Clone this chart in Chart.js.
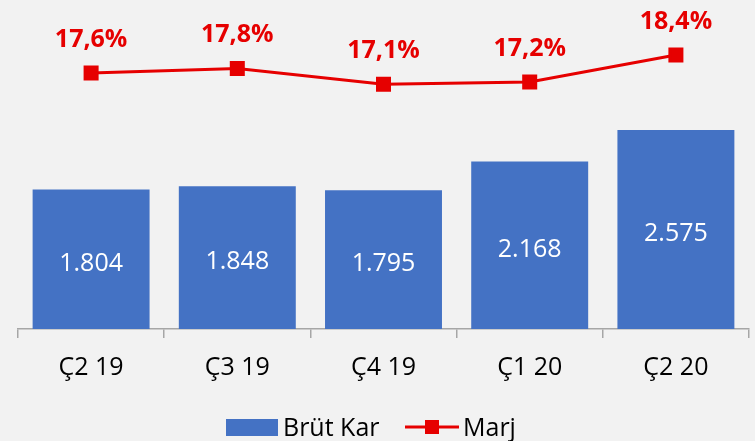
<!DOCTYPE html>
<html>
<head>
<meta charset="utf-8">
<script src="https://cdn.jsdelivr.net/npm/chart.js@4/dist/chart.umd.min.js"></script>
<style>
  html, body { margin: 0; padding: 0; background: #F2F2F2; overflow: hidden; }
  #chart { display: block; }
</style>
</head>
<body>
<canvas id="chart" width="755" height="441"></canvas>
<script>
const categories = ['Ç2 19', 'Ç3 19', 'Ç4 19', 'Ç1 20', 'Ç2 20'];
const brutKar = [1804, 1848, 1795, 2168, 2575];
const marj = [17.6, 17.8, 17.1, 17.2, 18.4];

const BLUE = '#4472C4';
const RED = '#E60000';
const FONT = '"Open Sans", "Noto Sans", sans-serif';

function fmtThousands(v) {
    return (v / 1000).toFixed(3);
}
function fmtPct(v) {
    return v.toFixed(1).replace('.', ',') + '%';
}

// değer etiketleri ve alttaki legend
const labelsPlugin = {
    id: 'labelsPlugin',
    afterDatasetsDraw(chart) {
        const ctx = chart.ctx;
        ctx.save();
        ctx.textAlign = 'center';
        ctx.textBaseline = 'alphabetic';

        const bars = chart.getDatasetMeta(0).data;
        ctx.fillStyle = '#FFFFFF';
        ctx.font = '25px ' + FONT;
        bars.forEach((b, i) => {
            const y = (b.y + b.base) / 2;
            ctx.fillText(fmtThousands(brutKar[i]), b.x, y + 11.5);
        });

        const pts = chart.getDatasetMeta(1).data;
        ctx.fillStyle = RED;
        ctx.font = 'bold 25px ' + FONT;
        pts.forEach((p, i) => {
            ctx.fillText(fmtPct(marj[i]), p.x, p.y - 26);
        });

        // legend
        const ly = 427;
        ctx.fillStyle = BLUE;
        ctx.fillRect(226, ly - 8, 52, 17);
        ctx.fillStyle = '#000000';
        ctx.font = '25px ' + FONT;
        ctx.textAlign = 'left';
        ctx.fillText('Brüt Kar', 283, 436);

        ctx.strokeStyle = RED;
        ctx.lineWidth = 3;
        ctx.beginPath();
        ctx.moveTo(405, ly);
        ctx.lineTo(459, ly);
        ctx.stroke();
        ctx.fillStyle = RED;
        ctx.fillRect(425, ly - 7, 14, 14);
        ctx.fillStyle = '#000000';
        ctx.fillText('Marj', 463, 436);
        ctx.restore();
    }
};

new Chart(document.getElementById('chart'), {
    type: 'bar',
    data: {
        labels: categories,
        datasets: [
            {
                type: 'bar',
                label: 'Brüt Kar',
                data: brutKar,
                backgroundColor: BLUE,
                categoryPercentage: 0.8,
                barPercentage: 1.0,
                yAxisID: 'y',
                order: 2
            },
            {
                type: 'line',
                label: 'Marj',
                data: marj,
                borderColor: RED,
                backgroundColor: RED,
                borderWidth: 3,
                pointStyle: 'rect',
                pointRadius: 8.5,
                pointHoverRadius: 8.5,
                pointBorderWidth: 3,
                pointBorderColor: RED,
                tension: 0,
                yAxisID: 'y2',
                order: 1
            }
        ]
    },
    options: {
        responsive: false,
        animation: false,
        layout: { autoPadding: false, padding: { left: 18, right: 6, top: 10, bottom: 43 } },
        plugins: {
            legend: { display: false },
            tooltip: { enabled: false }
        },
        scales: {
            x: {
                offset: true,
                grid: {
                    offset: true,
                    drawOnChartArea: false,
                    drawTicks: true,
                    tickLength: 9,
                    color: '#A6A6A6',
                    lineWidth: 1.5
                },
                border: { color: '#A6A6A6', width: 1.5 },
                ticks: {
                    color: '#000000',
                    font: { family: FONT, size: 25 },
                    padding: 15
                }
            },
            y: {
                display: false,
                min: 0,
                max: 4127
            },
            y2: {
                display: false,
                position: 'right',
                min: 6.22,
                max: 20.4
            }
        }
    },
    plugins: [labelsPlugin]
});
</script>
</body>
</html>
